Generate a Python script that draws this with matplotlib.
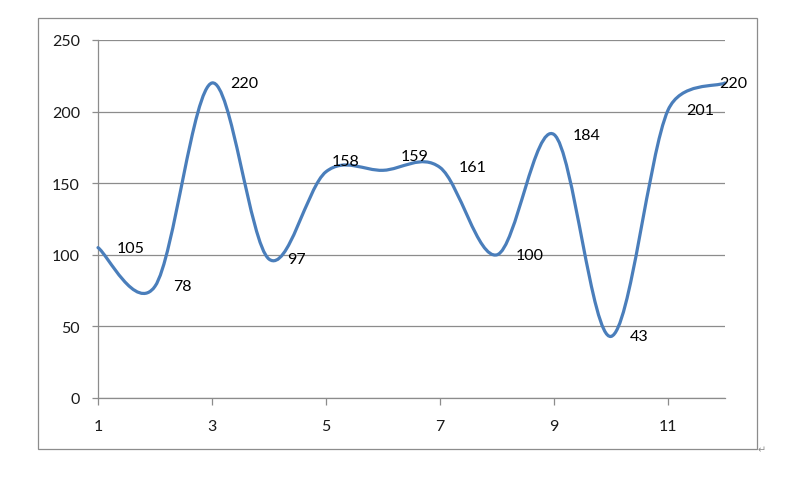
import numpy as np
import matplotlib
matplotlib.use("Agg")
import matplotlib.pyplot as plt
from matplotlib.path import Path
from matplotlib.patches import PathPatch, Rectangle

plt.rcParams['font.family'] = ['Lato', 'DejaVu Sans']

x_vals = [1, 2, 3, 4, 5, 6, 7, 8, 9, 10, 11, 12]
y_vals = [105, 78, 220, 97, 158, 159, 161, 100, 184, 43, 201, 220]
x_ticks = [1, 3, 5, 7, 9, 11]
y_ticks = [0, 50, 100, 150, 200, 250]

# label offsets in points (dx, dy) - layout only
label_offsets = [(13.4, 0)] * 12
label_offsets[4] = (4.3, 7.9)
label_offsets[5] = (13.0, 10.5)
label_offsets[11] = (-4.3, 0)

fig = plt.figure(figsize=(7.94, 4.85), dpi=100)
ax = fig.add_axes([98/794, 1-399/485, (725-98)/794, (399-41)/485])
ax.set_xlim(1, 12)
ax.set_ylim(0, 250)

# outer chart border
fig.patches.append(Rectangle((38/794, 1-450/485), (757-38)/794, (450-19)/485,
                             transform=fig.transFigure, fill=False,
                             edgecolor='#8c8c8c', linewidth=0.9))

# smoothed line (Excel-like Bezier smoothing, control length capped at half segment)
P = np.column_stack([x_vals, y_vals]).astype(float)
sx = (725 - 98) / 11.0   # px per x unit
sy = (399 - 41) / 250.0  # px per y unit
scale = np.array([sx, sy])

def plen(v):
    return float(np.hypot(*(v * scale)))

n = len(P)
verts = [tuple(P[0])]
codes = [Path.MOVETO]
for i in range(n - 1):
    p_prev = P[i-1] if i > 0 else P[i]
    p0 = P[i]
    p1 = P[i+1]
    p_next = P[i+2] if i + 2 < n else P[i+1]
    half = plen(p1 - p0) / 2.0
    v1 = (p1 - p_prev) / 6.0
    v2 = (p_next - p0) / 6.0
    if plen(v1) > half:
        v1 = v1 * half / plen(v1)
    if plen(v2) > half:
        v2 = v2 * half / plen(v2)
    c1 = p0 + v1
    c2 = p1 - v2
    verts += [tuple(c1), tuple(c2), tuple(p1)]
    codes += [Path.CURVE4] * 3
patch = PathPatch(Path(verts, codes), facecolor='none', edgecolor='#4a7ebb',
                  linewidth=2.3, capstyle='round', joinstyle='round',
                  clip_on=False, zorder=3)
ax.add_patch(patch)

for (xv, yv), (dx, dy) in zip(zip(x_vals, y_vals), label_offsets):
    ax.annotate(str(yv), (xv, yv), xytext=(dx, dy), textcoords='offset points',
                ha='left', va='center', fontsize=11.5, color='#000000',
                zorder=4, annotation_clip=False)

ax.set_xticks(x_ticks)
ax.set_yticks(y_ticks)
ax.grid(axis='y', color='#8c8c8c', linewidth=0.9)
ax.set_axisbelow(True)
for s in ['top', 'right']:
    ax.spines[s].set_visible(False)
for s in ['left', 'bottom']:
    ax.spines[s].set_color('#8c8c8c')
    ax.spines[s].set_linewidth(0.9)
ax.tick_params(axis='y', length=4, width=0.9, color='#8c8c8c', pad=9,
               labelsize=11.5, labelcolor='#1a1a1a')
ax.tick_params(axis='x', length=5, width=0.9, color='#8c8c8c', pad=10,
               labelsize=11.5, labelcolor='#1a1a1a')

fig.text(762/794, 1-450/485, '\u21b5', fontsize=7, color='#8c8c8c',
         family=['DejaVu Sans'], ha='center', va='center')

fig.savefig('out.png', dpi=100)
